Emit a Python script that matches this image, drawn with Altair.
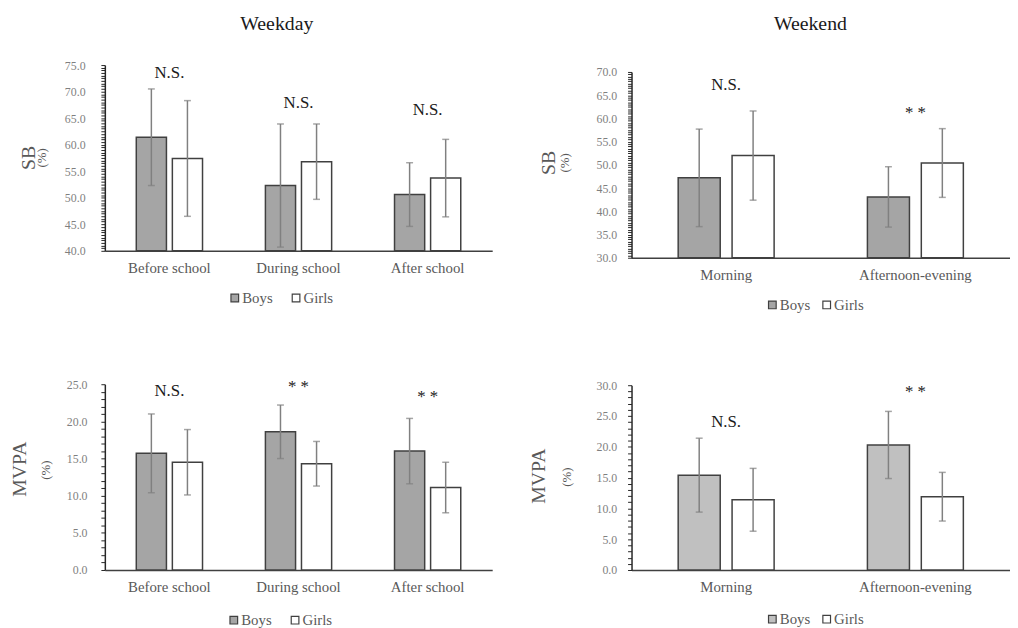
import altair as alt
import pandas as pd
import numpy as np

# ---------------- data ----------------
weekday_cats = ["Before school", "During school", "After school"]
weekend_cats = ["Morning", "Afternoon-evening"]
groups = ["Boys", "Girls"]

sb_wd_boys = [61.4, 52.3, 50.6]
sb_wd_boys_sd = [9.1, 11.6, 6.0]
sb_wd_girls = [57.4, 56.8, 53.7]
sb_wd_girls_sd = [10.9, 7.1, 7.3]
sb_wd_sig = ["N.S.", "N.S.", "N.S."]
sb_wd_sig_y = [73.5, 67.8, 66.6]

sb_we_boys = [47.2, 43.1]
sb_we_boys_sd = [10.5, 6.5]
sb_we_girls = [52.0, 50.4]
sb_we_girls_sd = [9.6, 7.4]
sb_we_sig = ["N.S.", "* *"]
sb_we_sig_y = [67.2, 61.1]

mvpa_wd_boys = [15.7, 18.6, 16.0]
mvpa_wd_boys_sd = [5.3, 3.6, 4.4]
mvpa_wd_girls = [14.5, 14.3, 11.1]
mvpa_wd_girls_sd = [4.4, 3.0, 3.4]
mvpa_wd_sig = ["N.S.", "* *", "* *"]
mvpa_wd_sig_y = [24.1, 24.6, 23.3]

mvpa_we_boys = [15.4, 20.3]
mvpa_we_boys_sd = [6.0, 5.45]
mvpa_we_girls = [11.4, 11.9]
mvpa_we_girls_sd = [5.1, 3.95]
mvpa_we_sig = ["N.S.", "* *"]
mvpa_we_sig_y = [24.1, 28.9]

SERIF = "Liberation Serif"
AXIS_GREY = "#7f7f7f"
TEXT_GREY = "#595959"


def panel(cats, boys, boys_sd, girls, girls_sd, sig, sig_y, ymin, ymax, minor,
          boys_fill, w, h, top_gap, x_pi, off_pi, ytitle, ytitle_pos, pct_pos,
          legend_pos, legend_colpad, label_pad, title=None, title_pos=None):
    rows = []
    for i, c in enumerate(cats):
        rows.append({"cat": c, "grp": "Boys", "v": boys[i], "lo": boys[i] - boys_sd[i], "hi": boys[i] + boys_sd[i]})
        rows.append({"cat": c, "grp": "Girls", "v": girls[i], "lo": girls[i] - girls_sd[i], "hi": girls[i] + girls_sd[i]})
    df = pd.DataFrame(rows)
    sig_df = pd.DataFrame({"cat": cats, "s": sig, "y": sig_y})
    tick_vals = [round(float(v), 2) for v in np.arange(ymin, ymax + 1e-9, minor)]

    xscale = alt.Scale(domain=cats, paddingInner=x_pi, paddingOuter=x_pi / 2)
    yscale = alt.Scale(domain=[ymin, ymax], zero=False, nice=False, range=[h, top_gap])
    offscale = alt.Scale(domain=groups, paddingInner=off_pi, paddingOuter=0)

    xaxis = alt.Axis(title=None, labelAngle=0, ticks=False, domainColor="#404040",
                     domainWidth=1.5, labelFont=SERIF, labelFontSize=15,
                     labelColor=TEXT_GREY, labelPadding=10)
    yaxis = alt.Axis(title=None, values=tick_vals, labelOverlap=False,
                     labelExpr="datum.value % 5 == 0 ? format(datum.value, '.1f') : ''",
                     ticks=True, tickSize=4, tickColor="#262626", tickWidth=1,
                     grid=False, domainColor="#262626", domainWidth=1.5,
                     labelFont=SERIF, labelFontSize=12, labelColor=AXIS_GREY,
                     labelPadding=label_pad)

    X = alt.X("cat:N", scale=xscale, sort=cats, axis=xaxis)
    XO = alt.XOffset("grp:N", scale=offscale)

    base = alt.Chart(df)
    bars = base.mark_bar(stroke="#404040", strokeWidth=1.5).encode(
        x=X, xOffset=XO,
        y=alt.Y("v:Q", scale=yscale, axis=yaxis),
        y2=alt.datum(ymin),
        color=alt.Color("grp:N",
                        scale=alt.Scale(domain=groups, range=[boys_fill, "#ffffff"]),
                        legend=alt.Legend(title=None, orient="none", direction="horizontal",
                                          legendX=legend_pos[0], legendY=legend_pos[1],
                                          symbolType="square", symbolSize=60,
                                          symbolStrokeColor="#404040", symbolStrokeWidth=1.2,
                                          labelFont=SERIF, labelFontSize=15,
                                          labelColor=TEXT_GREY, labelOffset=0,
                                          columnPadding=legend_colpad, padding=0)),
    )
    err = base.mark_rule(color="#808080", strokeWidth=1.5).encode(
        x=X, xOffset=XO, y=alt.Y("lo:Q", scale=yscale, axis=yaxis), y2="hi:Q")
    cap_lo = base.mark_tick(color="#808080", thickness=1.5, size=7).encode(
        x=X, xOffset=XO, y=alt.Y("lo:Q", scale=yscale, axis=yaxis))
    cap_hi = base.mark_tick(color="#808080", thickness=1.5, size=7).encode(
        x=X, xOffset=XO, y=alt.Y("hi:Q", scale=yscale, axis=yaxis))
    sigt = alt.Chart(sig_df).mark_text(font=SERIF, fontSize=17, color="#1a1a1a",
                                       baseline="middle").encode(
        x=X, y=alt.Y("y:Q", scale=yscale, axis=yaxis), text="s:N")
    yt = alt.Chart(pd.DataFrame({"t": [ytitle]})).mark_text(
        font=SERIF, fontSize=20, color=TEXT_GREY, angle=270, align="center",
        baseline="middle").encode(x=alt.value(ytitle_pos[0]), y=alt.value(ytitle_pos[1]), text="t:N")
    pt = alt.Chart(pd.DataFrame({"t": ["(%)"]})).mark_text(
        font=SERIF, fontSize=13, color=TEXT_GREY, angle=270, align="center",
        baseline="middle").encode(x=alt.value(pct_pos[0]), y=alt.value(pct_pos[1]), text="t:N")

    layers = [bars, err, cap_lo, cap_hi, sigt, yt, pt]
    if title is not None:
        tt = alt.Chart(pd.DataFrame({"t": [title]})).mark_text(
            font=SERIF, fontSize=20, color="#1a1a1a", align="center",
            baseline="middle").encode(x=alt.value(title_pos[0]), y=alt.value(title_pos[1]), text="t:N")
        layers.append(tt)
    return alt.layer(*layers).properties(width=w, height=h)


tl = panel(weekday_cats, sb_wd_boys, sb_wd_boys_sd, sb_wd_girls, sb_wd_girls_sd,
           sb_wd_sig, sb_wd_sig_y, 40, 75, 0.5, "#a5a5a5", 392, 188, 0, 0.487, 0.164,
           "SB", (-77, 94), (-64, 94), (124, 228), 16, 16,
           title="Weekday", title_pos=(174, -41))
tr = panel(weekend_cats, sb_we_boys, sb_we_boys_sd, sb_we_girls, sb_we_girls_sd,
           sb_we_sig, sb_we_sig_y, 30, 70, 0.5, "#a5a5a5", 383, 195, 7, 0.493, 0.22,
           "SB", (-83, 99), (-67, 99), (135, 235), 9, 11,
           title="Weekend", title_pos=(181, -41))
bl = panel(weekday_cats, mvpa_wd_boys, mvpa_wd_boys_sd, mvpa_wd_girls, mvpa_wd_girls_sd,
           mvpa_wd_sig, mvpa_wd_sig_y, 0, 25, 1, "#a5a5a5", 392, 188, 0, 0.487, 0.164,
           "MVPA", (-86, 86), (-59, 87), (123, 231), 16, 14)
br = panel(weekend_cats, mvpa_we_boys, mvpa_we_boys_sd, mvpa_we_girls, mvpa_we_girls_sd,
           mvpa_we_sig, mvpa_we_sig_y, 0, 30, 1, "#c0c0c0", 383, 187, 0, 0.493, 0.22,
           "MVPA", (-94, 92), (-65, 93), (135, 229), 9, 11)

left = alt.vconcat(tl, bl, spacing=73).resolve_scale(color="independent", y="independent", x="independent")
right = alt.vconcat(tr, br, spacing=67).resolve_scale(color="independent", y="independent", x="independent")

chart = alt.hconcat(left, right, spacing=37).resolve_scale(
    color="independent", y="independent", x="independent", xOffset="independent"
).resolve_legend(color="independent").configure(
    padding={"left": 2, "top": 3, "right": 0, "bottom": 0}, background="white", font=SERIF
).configure_axis(labelFont=SERIF).configure_legend(labelFont=SERIF).configure_text(font=SERIF
).configure_view(stroke=None)

chart.save("out.html", embed_options={"renderer": "svg", "actions": False})
